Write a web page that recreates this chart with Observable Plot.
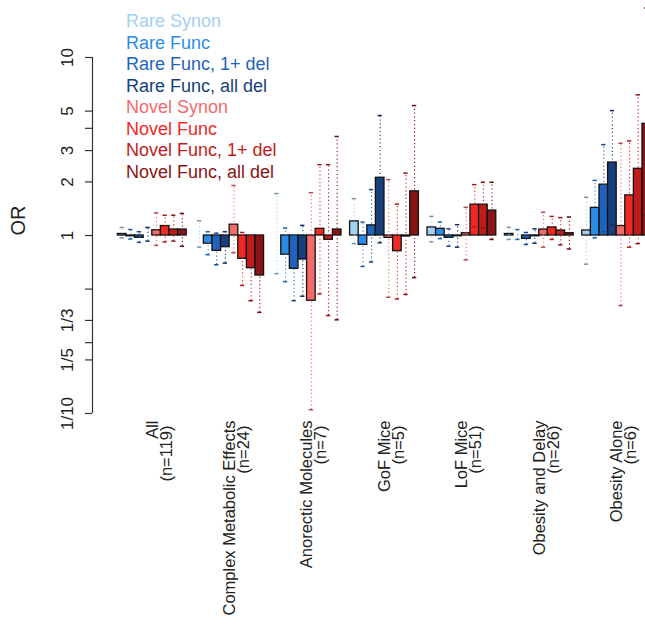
<!DOCTYPE html>
<html><head><meta charset="utf-8">
<script src="https://cdn.jsdelivr.net/npm/d3@7"></script>
<script src="https://cdn.jsdelivr.net/npm/@observablehq/plot@0.6"></script>
<style>
body{margin:0;background:#fff;overflow:hidden}
#wrap{position:relative;width:645px;height:631px;overflow:hidden}
#legend{position:absolute;left:126px;top:11px;font-family:"Liberation Sans",Arial,sans-serif;font-size:18px;line-height:21.5px;white-space:nowrap}
</style></head><body><div id="wrap"><div id="legend"></div></div>
<script>
const groups = ["All","Complex Metabolic Effects","Anorectic Molecules","GoF Mice","LoF Mice","Obesity and Delay","Obesity Alone"];
const groupN = ["(n=119)","(n=24)","(n=7)","(n=5)","(n=51)","(n=26)","(n=6)"];
const series = ["Rare Synon","Rare Func","Rare Func, 1+ del","Rare Func, all del","Novel Synon","Novel Func","Novel Func, 1+ del","Novel Func, all del"];
const seriesColors = ["#a3d1f0","#2b8ce6","#1f63bc","#163f7c","#f26b6b","#ef2a22","#c01c1c","#8b1414"];

// odds ratios, one row per group, one column per series
const oddsRatio = [
  [1.02, 0.99, 0.97, 1.00, 1.07, 1.13, 1.08, 1.08],
  [1.00, 0.90, 0.82, 0.86, 1.15, 0.74, 0.655, 0.596],
  [1.00, 0.78, 0.65, 0.733, 0.43, 1.09, 0.946, 1.08],
  [1.20, 0.886, 1.14, 2.11, 0.97, 0.816, 0.987, 1.77],
  [1.11, 1.09, 0.97, 0.99, 1.03, 1.49, 1.49, 1.38],
  [1.02, 1.00, 0.958, 0.99, 1.08, 1.11, 1.067, 1.03],
  [1.067, 1.43, 1.93, 2.57, 1.13, 1.68, 2.37, 4.24]
];
const ciLower = [
  [0.97, 0.955, 0.915, 0.93, 0.88, 0.92, 0.93, 0.87],
  [0.86, 0.78, 0.685, 0.70, 0.80, 0.524, 0.43, 0.37],
  [0.61, 0.55, 0.43, 0.456, 0.105, 0.47, 0.355, 0.336],
  [0.90, 0.67, 0.71, 0.91, 0.45, 0.44, 0.466, 0.58],
  [0.92, 0.96, 0.87, 0.86, 0.73, 1.12, 1.10, 0.95],
  [0.95, 0.95, 0.89, 0.905, 0.86, 0.95, 0.886, 0.84],
  [0.69, 0.97, 1.05, 1.15, 0.404, 0.86, 0.90, 1.30]
];
const ciUpper = [
  [1.11, 1.08, 1.05, 1.11, 1.34, 1.30, 1.30, 1.33],
  [1.21, 1.05, 1.03, 1.05, 1.91, 1.04, 1.00, 1.00],
  [1.72, 1.10, 1.00, 1.14, 1.74, 2.50, 2.50, 3.60],
  [1.61, 1.19, 1.81, 4.72, 2.06, 1.50, 2.24, 5.37],
  [1.28, 1.19, 1.09, 1.15, 1.44, 1.93, 1.99, 1.99],
  [1.11, 1.08, 1.04, 1.09, 1.35, 1.28, 1.26, 1.27],
  [1.64, 2.04, 3.24, 5.03, 3.30, 3.40, 6.17, 19.0]
];
const yTicks = [10, 5, 4, 3, 2, 1, 1/2, 1/3, 1/4, 1/5, 1/10];
const yLabelValues = [10, 5, 3, 2, 1, 1/3, 1/5, 1/10];
const yLabelText = ["10", "5", "3", "2", "1", "1/3", "1/5", "1/10"];

// layout
const slotsPerGroup = series.length + 1; // one empty slot between groups
const xDomain = [-1.95, 62.35];
const font = '"Liberation Sans", Arial, sans-serif';

const rows = groups.flatMap((g, gi) => series.map((s, si) => ({
  group: g, series: s,
  pos: gi * slotsPerGroup + 1 + si,
  or: oddsRatio[gi][si], lo: ciLower[gi][si], hi: ciUpper[gi][si],
  color: seriesColors[si],
  cap: d3.color(seriesColors[si]).darker(0.9).formatHex()
})));

const chart = Plot.plot({
  width: 645, height: 631,
  marginLeft: 92, marginRight: 0, marginTop: 57, marginBottom: 218,
  x: {type: "linear", domain: xDomain, axis: null},
  y: {type: "log", domain: [0.1, 10]},
  color: {type: "identity"},
  style: {fontFamily: font, background: "white", color: "#222"},
  marks: [
    Plot.ruleX([xDomain[0]], {x: d => d, y1: () => d3.min(yTicks), y2: () => d3.max(yTicks), stroke: "#333", strokeWidth: 1.2}),
    Plot.axisY({ticks: yTicks, tickSize: 7, tickFormat: () => "", label: null, stroke: "#333", strokeWidth: 1.2}),
    Plot.text(yLabelValues, {y: d => d, text: (d, i) => yLabelText[i], frameAnchor: "left", dx: -25, rotate: -90, fontSize: 17, textAnchor: "middle", lineAnchor: "middle", fill: "#222"}),
    Plot.text(["OR"], {text: d => d, frameAnchor: "left", dx: -74, rotate: -90, fontSize: 20, lineAnchor: "middle", fill: "#222"}),
    Plot.rect(rows, {x1: d => d.pos, x2: d => d.pos + 1, y1: () => 1, y2: "or", fill: "color", stroke: "#111", strokeWidth: 1.3}),
    Plot.ruleX(rows, {x: d => d.pos + 0.5, y1: "lo", y2: "hi", stroke: "color", strokeWidth: 1.1, strokeDasharray: "1.2,2.6"}),
    Plot.ruleY(rows, {y: "lo", x1: d => d.pos + 0.25, x2: d => d.pos + 0.75, stroke: "cap", strokeWidth: 1.5}),
    Plot.ruleY(rows, {y: "hi", x1: d => d.pos + 0.25, x2: d => d.pos + 0.75, stroke: "cap", strokeWidth: 1.5}),
    Plot.text(groups, {x: (d, i) => i * slotsPerGroup + 5, text: d => d, frameAnchor: "bottom", dy: 7, rotate: -90, textAnchor: "end", lineAnchor: "middle", fontSize: 16.5, fill: "#222"}),
    Plot.text(groupN, {x: (d, i) => i * slotsPerGroup + 5, text: d => d, frameAnchor: "bottom", dx: 14, dy: 12, rotate: -90, textAnchor: "end", lineAnchor: "middle", fontSize: 16.5, fill: "#222"})
  ]
});
const wrap = document.getElementById("wrap");
wrap.insertBefore(chart, wrap.firstChild);
const legend = document.getElementById("legend");
series.forEach((s, i) => {
  const div = document.createElement("div");
  div.textContent = s;
  div.style.color = seriesColors[i];
  legend.appendChild(div);
});
</script></body></html>
